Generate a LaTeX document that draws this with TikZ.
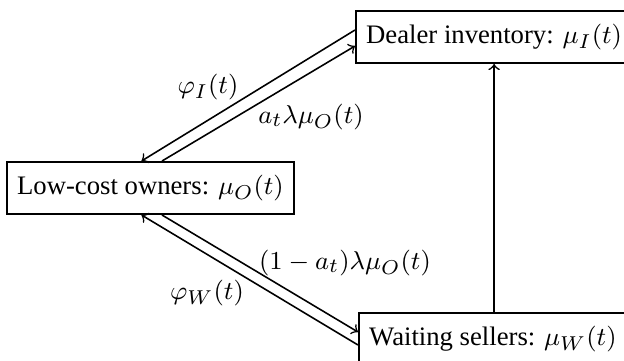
\documentclass[tikz,border=0pt]{standalone}
\usepackage{fontspec}
\setmainfont{Liberation Serif}
\usetikzlibrary{calc}
\begin{document}
\begin{tikzpicture}[x=0.3484pt,y=-0.3484pt,
  box/.style={draw,line width=0.6pt,font=\fontsize{9.3}{11}\selectfont,inner xsep=3.6pt,inner ysep=4.6pt},
  lab/.style={font=\fontsize{9.3}{11}\selectfont},
  arr/.style={->,line width=0.55pt}]
\useasboundingbox (0,0) rectangle (624,360);
\node[box,anchor=center] (lowcost) at (150.5,188) {Low-cost owners: $\mu_O(t)$};
\node[box,anchor=west] (dealer) at (355,37) {Dealer inventory: $\mu_I(t)$};
\node[box,anchor=west] (waiting) at (358,339) {Waiting sellers: $\mu_W(t)$};
\draw[arr] ($(dealer.west)+(0,-7)$) -- ($(lowcost.north)+(-9,0)$);
\draw[arr] ($(lowcost.north)+(11.5,0)$) -- ($(dealer.west)+(0,9)$);
\draw[arr] ($(lowcost.south)+(11.5,0)$) -- ($(waiting.west)+(0,-7)$);
\draw[arr] ($(waiting.west)+(0,6)$) -- ($(lowcost.south)+(-9,0)$);
\draw[arr] (waiting.north -| dealer.south) -- (dealer.south);
\node[lab] (phiI) at (208,87) {$\varphi_I(t)$};
\node[lab] (aflow) at (311,117) {$a_t\lambda\mu_O(t)$};
\node[lab] (wflow) at (345,263) {$(1-a_t)\lambda\mu_O(t)$};
\node[lab] (phiW) at (207,293) {$\varphi_W(t)$};
\end{tikzpicture}
\end{document}
